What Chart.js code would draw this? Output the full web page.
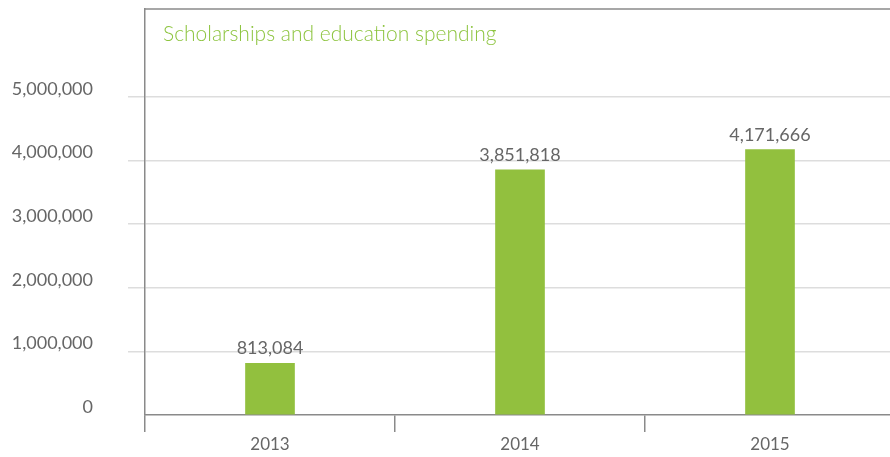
<!DOCTYPE html>
<html>
<head>
<meta charset="utf-8">
<script src="https://cdn.jsdelivr.net/npm/chart.js@4"></script>
<style>
  html, body { margin: 0; padding: 0; background: #fff; overflow: hidden; }
  #chart { display: block; }
</style>
</head>
<body>
<canvas id="chart" width="895" height="457"></canvas>
<script>
// Scholarships and education spending by year

const years = ['2013', '2014', '2015'];
const spending = [813084, 3851818, 4171666];
const yTicks = [0, 1000000, 2000000, 3000000, 4000000, 5000000];
const chartTitle = 'Scholarships and education spending';

const FONT = 'Lato, "Open Sans", sans-serif';
const AXIS_GREY = '#8a8a8a';
const TEXT_GREY = '#666666';

function formatNumber(v) {
  return v.toLocaleString('en-US');
}

// title, top border and value labels drawn on the canvas
const decorations = {
  id: 'decorations',
  afterDraw(chart) {
    const ctx = chart.ctx;
    const area = chart.chartArea;
    ctx.save();

    ctx.strokeStyle = AXIS_GREY;
    ctx.lineWidth = 1.5;
    ctx.beginPath();
    ctx.moveTo(area.left, area.top);
    ctx.lineTo(area.right, area.top);
    ctx.stroke();

    ctx.fillStyle = '#8dc43f';
    ctx.font = '300 21px ' + FONT;
    ctx.textAlign = 'left';
    ctx.textBaseline = 'alphabetic';
    ctx.fillText(chartTitle, area.left + 18, 41);

    ctx.fillStyle = TEXT_GREY;
    ctx.font = '18px ' + FONT;
    ctx.textAlign = 'center';
    const meta = chart.getDatasetMeta(0);
    meta.data.forEach((bar, i) => {
      ctx.fillText(formatNumber(spending[i]), bar.x, bar.y - 9);
    });
    ctx.restore();
  }
};

new Chart(document.getElementById('chart'), {
  type: 'bar',
  data: {
    labels: years,
    datasets: [{
      data: spending,
      backgroundColor: '#92c03e',
      barThickness: 49
    }]
  },
  options: {
    responsive: false,
    animation: false,
    layout: { autoPadding: false, padding: { top: 9, right: 0, left: 0, bottom: 0 } },
    plugins: {
      legend: { display: false },
      tooltip: { enabled: false }
    },
    scales: {
      x: {
        offset: true,
        border: { display: true, color: AXIS_GREY, width: 1.5 },
        grid: {
          drawOnChartArea: false,
          drawTicks: true,
          tickLength: 17,
          color: AXIS_GREY,
          lineWidth: 1.5,
          offset: true
        },
        ticks: {
          color: TEXT_GREY,
          font: { family: FONT, size: 17 },
          padding: 2
        },
        afterFit(scale) { scale.height = 42; }
      },
      y: {
        min: 0,
        max: 6380000,
        border: { display: true, color: AXIS_GREY, width: 1.5 },
        grid: {
          color: ctx => (ctx.tick && ctx.tick.value === 0) ? 'rgba(0,0,0,0)' : '#dddddd',
          lineWidth: 1.5,
          tickLength: 17
        },
        ticks: {
          stepSize: 1000000,
          color: TEXT_GREY,
          font: { family: FONT, size: 18 },
          padding: 35,
          labelOffset: -8,
          callback: v => formatNumber(v)
        },
        afterBuildTicks(scale) {
          scale.ticks = yTicks.map(v => ({ value: v }));
        },
        afterFit(scale) {
          scale.width = 145;
          scale.paddingTop = 0;
          scale.paddingBottom = 0;
        }
      }
    }
  },
  plugins: [decorations]
});
</script>
</body>
</html>
